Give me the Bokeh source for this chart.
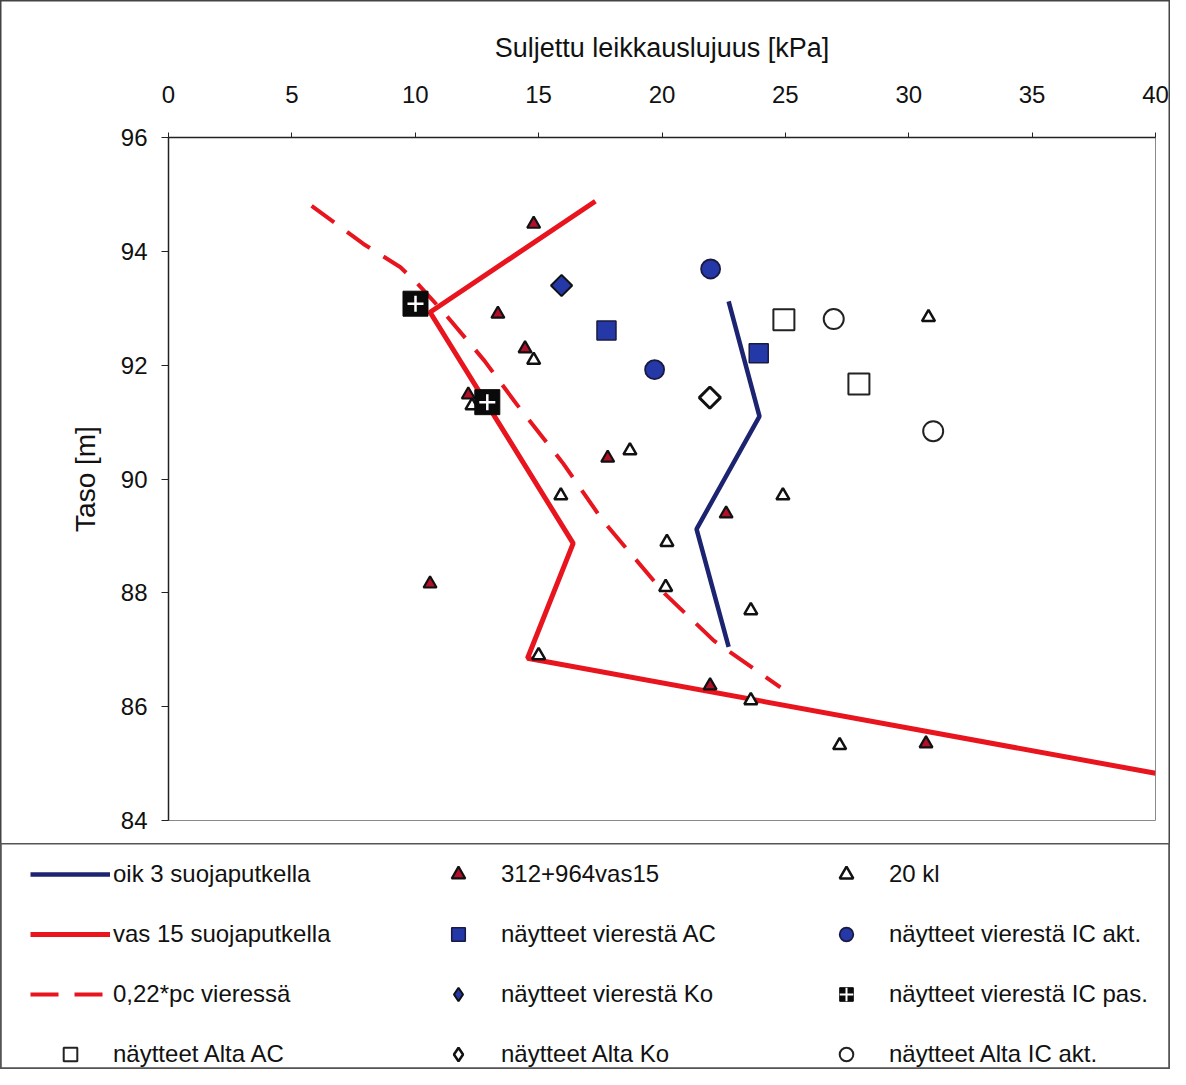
import math
from bokeh.plotting import figure
from bokeh.models import Legend, LegendItem, FixedTicker
from bokeh.layouts import column
from bokeh.embed import file_html
from bokeh.resources import INLINE

# ---- data ----
oik3_x = [22.7, 23.95, 21.4, 22.7]
oik3_y = [93.12, 91.1, 89.12, 87.05]

vas15_x = [17.3, 10.6, 16.4, 14.55, 40.0]
vas15_y = [94.88, 92.93, 88.87, 86.85, 84.83]

pc_x = [5.8, 7.9, 9.4, 10.1, 11.15, 12.8, 14.1, 16.0, 17.6, 20.1, 22.1, 24.8]
pc_y = [94.8, 94.13, 93.72, 93.43, 92.93, 92.08, 91.32, 90.27, 89.27, 87.99, 87.16, 86.34]

vas15_pts_x = [14.8, 13.35, 14.45, 12.15, 17.8, 22.6, 10.6, 21.95, 30.7]
vas15_pts_y = [94.48, 92.90, 92.29, 91.48, 90.37, 89.39, 88.16, 86.37, 85.35]

kl20_x = [30.8, 14.8, 12.3, 18.7, 15.9, 24.9, 20.2, 20.15, 23.6, 15.0, 23.6, 27.2]
kl20_y = [92.84, 92.09, 91.29, 90.50, 89.71, 89.71, 88.89, 88.10, 87.69, 86.90, 86.11, 85.32]

vier_ac_x = [17.75, 23.92]
vier_ac_y = [92.61, 92.21]

vier_icakt_x = [21.97, 19.70]
vier_icakt_y = [93.69, 91.92]

vier_ko_x = [15.93]
vier_ko_y = [93.40]

vier_icpas_x = [10.01, 12.92]
vier_icpas_y = [93.08, 91.35]

alta_ac_x = [24.94, 27.98]
alta_ac_y = [92.80, 91.67]

alta_ko_x = [21.94]
alta_ko_y = [91.43]

alta_icakt_x = [26.96, 30.99]
alta_icakt_y = [92.81, 90.84]

x_ticks = [0, 5, 10, 15, 20, 25, 30, 35, 40]
y_ticks = [84, 86, 88, 90, 92, 94, 96]

labels = ["oik 3 suojaputkella", "312+964vas15", "20 kl",
          "vas 15 suojaputkella", "näytteet vierestä AC", "näytteet vierestä IC akt.",
          "0,22*pc vieressä", "näytteet vierestä Ko", "näytteet vierestä IC pas.",
          "näytteet Alta AC", "näytteet Alta Ko", "näytteet Alta IC akt."]

FONT = "Liberation Sans"
RED = "#e8141e"
NAVY = "#1c2370"
BLUE = "#2438a8"
DARKRED = "#b0102a"

# ---- styles ----
line_styles = {
    "oik3": dict(line_color=NAVY, line_width=4.5),
    "vas15": dict(line_color=RED, line_width=5),
    "pc": dict(line_color=RED, line_width=4, line_dash="28 16"),
}
marker_styles = {
    "kl20": dict(marker="triangle", size=13, fill_color="white", line_color="#111111", line_width=2.5),
    "v15": dict(marker="triangle", size=13, fill_color=DARKRED, line_color="#111111", line_width=2.2),
    "vac": dict(marker="square", size=19, fill_color=BLUE, line_color="#1a1a40", line_width=1.5),
    "vic": dict(marker="circle", size=19, fill_color=BLUE, line_color="#1a1a40", line_width=1.8),
    "vko": dict(marker="square", angle=math.pi / 4, size=15, fill_color=BLUE, line_color="#111111", line_width=2),
    "aac": dict(marker="square", size=21, fill_color="white", line_color="#222222", line_width=2),
    "ako": dict(marker="square", angle=math.pi / 4, size=15, fill_color="white", line_color="#111111", line_width=3),
    "aic": dict(marker="circle", size=20, fill_color="white", line_color="#222222", line_width=2),
    "pas1": dict(marker="square", size=25, fill_color="#0a0a0a", line_color="#0a0a0a", line_width=1),
    "pas2": dict(marker="cross", size=16, line_color="white", line_width=2.5),
}
# legend glyphs ignore the marker angle, so the diamonds use the diamond marker there
legend_overrides = {
    "vko": dict(marker="diamond", angle=0),
    "ako": dict(marker="diamond", angle=0, line_width=2.5),
    "pas2": dict(line_width=2),
}

series = {
    "oik3": (oik3_x, oik3_y), "vas15": (vas15_x, vas15_y), "pc": (pc_x, pc_y),
    "kl20": (kl20_x, kl20_y), "v15": (vas15_pts_x, vas15_pts_y),
    "vac": (vier_ac_x, vier_ac_y), "vic": (vier_icakt_x, vier_icakt_y),
    "vko": (vier_ko_x, vier_ko_y), "aac": (alta_ac_x, alta_ac_y),
    "ako": (alta_ko_x, alta_ko_y), "aic": (alta_icakt_x, alta_icakt_y),
    "pas1": (vier_icpas_x, vier_icpas_y), "pas2": (vier_icpas_x, vier_icpas_y),
}

# ---- main chart ----
p = figure(width=1170, height=843, x_range=(0, 40), y_range=(84, 96),
           x_axis_location="above", output_backend="svg", toolbar_location=None,
           min_border_left=168, min_border_right=15, min_border_top=137,
           min_border_bottom=23)
p.frame_align = False
p.background_fill_color = "white"
p.border_fill_color = None
p.outline_line_color = "#8a8a8a"
p.outline_line_width = 1
p.xgrid.visible = False
p.ygrid.visible = False

for ax, ticks in ((p.xaxis[0], x_ticks), (p.yaxis[0], y_ticks)):
    ax.ticker = FixedTicker(ticks=ticks)
    ax.major_label_text_font = FONT
    ax.major_label_text_font_size = "24px"
    ax.major_label_text_color = "#111111"
    ax.axis_label_text_font = FONT
    ax.axis_label_text_font_style = "normal"
    ax.axis_label_text_color = "#111111"
    ax.axis_line_color = "#222222"
    ax.axis_line_width = 1.5
    ax.major_tick_line_color = "#222222"
    ax.major_tick_in = 0
    ax.minor_tick_line_color = None

p.xaxis[0].axis_label = "Suljettu leikkauslujuus [kPa]"
p.xaxis[0].axis_label_text_font_size = "27px"
p.xaxis[0].major_tick_out = 5
p.xaxis[0].major_label_standoff = 30
p.xaxis[0].axis_label_standoff = 20
p.yaxis[0].axis_label = "Taso [m]"
p.yaxis[0].axis_label_text_font_size = "28px"
p.yaxis[0].major_tick_out = 7
p.yaxis[0].major_label_standoff = 14
p.yaxis[0].axis_label_standoff = 17

for key in ("oik3", "vas15", "pc"):
    xs, ys = series[key]
    p.line(xs, ys, **line_styles[key])
for key in ("kl20", "v15", "vac", "vic", "vko", "aac", "ako", "aic", "pas1", "pas2"):
    xs, ys = series[key]
    p.scatter(xs, ys, **marker_styles[key])

# ---- legend panel: own figure below the chart, same series & styles,
#      its ranges keep the marks themselves out of view (only legend glyphs show) ----
lg = figure(width=1170, height=226, x_range=(-3, -2), y_range=(0, 1),
            output_backend="svg", toolbar_location=None,
            min_border_left=0, min_border_right=0, min_border_top=0, min_border_bottom=0)
lg.frame_align = False
lg.axis.visible = False
lg.grid.visible = False
lg.background_fill_color = None
lg.border_fill_color = None
lg.outline_line_color = "#555555"
lg.outline_line_width = 2

def proxy(key):
    xs, ys = series[key]
    if key in line_styles:
        return lg.line(xs, ys, **line_styles[key])
    style = dict(marker_styles[key])
    style.update(legend_overrides.get(key, {}))
    return lg.scatter(xs, ys, **style)

renderer_sets = [
    [proxy("oik3")], [proxy("v15")], [proxy("kl20")],
    [proxy("vas15")], [proxy("vac")], [proxy("vic")],
    [proxy("pc")], [proxy("vko")], [proxy("pas1"), proxy("pas2")],
    [proxy("aac")], [proxy("ako")], [proxy("aic")],
]
items = [LegendItem(label=lab, renderers=rs) for lab, rs in zip(labels, renderer_sets)]

legend = Legend(items=items, orientation="horizontal", ncols=3,
                location=(30, -2), margin=0,
                glyph_width=80, glyph_height=34, label_height=34,
                label_width=279, label_standoff=3, spacing=26, padding=13,
                label_text_font=FONT, label_text_font_size="24px",
                label_text_color="#111111",
                border_line_color=None,
                background_fill_color=None, background_fill_alpha=0.0)
lg.add_layout(legend, "center")

layout = column(p, lg, spacing=0)
layout.styles = {"box-shadow": "inset 0 0 0 1.5px #444444"}

open("out.html", "w").write(file_html(layout, INLINE))
